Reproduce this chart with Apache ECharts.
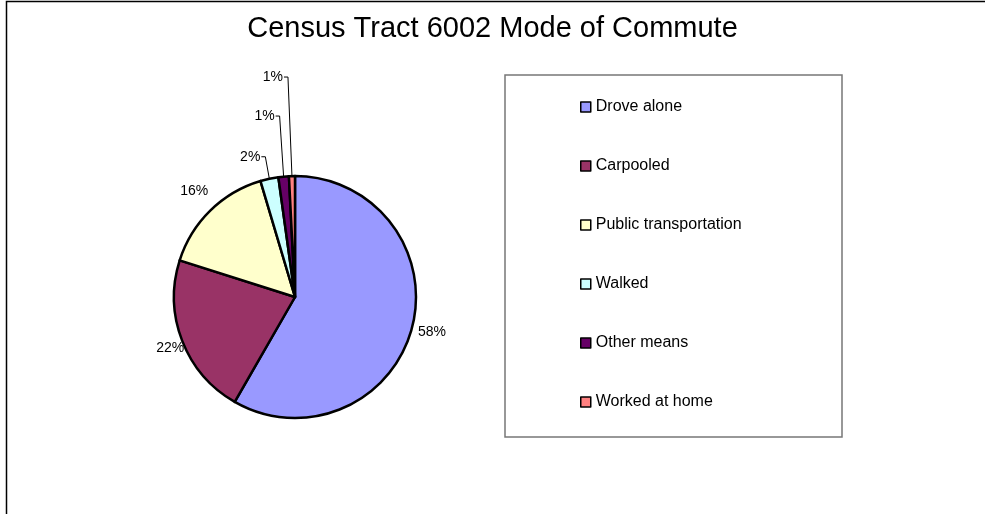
<!DOCTYPE html>
<html>
<head>
<meta charset="utf-8">
<script src="https://cdn.jsdelivr.net/npm/echarts@6/dist/echarts.min.js"></script>
<style>
  html, body { margin: 0; padding: 0; background: #fff; }
  #chart { width: 985px; height: 514px; }
</style>
</head>
<body>
<div id="chart"></div>
<script>
// commute mode shares (percent)
const modes = ["Drove alone", "Carpooled", "Public transportation", "Walked", "Other means", "Worked at home"];
const shares = [58.3, 21.6, 15.5, 2.4, 1.4, 0.8];
const colors = ["#9999ff", "#993366", "#ffffcc", "#ccffff", "#660066", "#ff8080"];

const FONT = "Liberation Sans, Arial, sans-serif";

// label offsets relative to the slice edge point (big slices only)
const bigLabelShift = [
  { dx: 6, dy: 4, align: "left" },
  { dx: 2, dy: 7, align: "right" },
  { dx: -2, dy: -19, align: "right" }
];

const pieData = modes.map((name, i) => ({
  name: name,
  value: shares[i],
  itemStyle: { color: colors[i] },
  labelLine: i < 3 ? { lineStyle: { width: 0 } } : {}
}));

const chart = echarts.init(document.getElementById("chart"));

chart.setOption({
  backgroundColor: "#fff",
  animation: false,
  title: {
    text: "Census Tract 6002 Mode of Commute",
    left: "center",
    top: 9,
    textStyle: { fontFamily: FONT, fontSize: 29, fontWeight: "normal", color: "#000" }
  },
  graphic: [
    {
      type: "rect",
      shape: { x: 6.5, y: 1.5, width: 1000, height: 600 },
      style: { fill: null, stroke: "#000", lineWidth: 1.5 },
      silent: true
    },
    {
      type: "rect",
      shape: { x: 505, y: 75, width: 337, height: 362 },
      style: { fill: "#fff", stroke: "#777", lineWidth: 1.5 },
      silent: true,
      z: -1
    }
  ],
  legend: {
    orient: "vertical",
    left: 575,
    top: 93,
    itemWidth: 10,
    itemHeight: 10,
    itemGap: 41,
    itemTextGap: 9,
    icon: "rect",
    itemStyle: { borderColor: "#000", borderWidth: 1.5 },
    textStyle: { fontFamily: FONT, fontSize: 16, color: "#000", lineHeight: 18 },
    data: modes
  },
  series: [
    {
      type: "pie",
      center: [295, 297],
      radius: 121,
      startAngle: 90,
      clockwise: true,
      avoidLabelOverlap: false,
      itemStyle: { borderColor: "#000", borderWidth: 2.5 },
      emphasis: { disabled: true },
      label: {
        show: true,
        position: "outside",
        fontFamily: FONT,
        fontSize: 14,
        color: "#000",
        formatter: p => Math.round(p.percent) + "%"
      },
      labelLine: {
        show: true,
        length: 2,
        length2: 0,
        smooth: false,
        lineStyle: { color: "#000", width: 1 }
      },
      labelLayout: function (params) {
        const i = params.dataIndex;
        const pts = params.labelLinePoints;
        if (!pts) return {};
        const p = pts[0];
        if (i < 3) {
          const s = bigLabelShift[i];
          return { x: p[0] + s.dx, y: p[1] + s.dy, align: s.align, verticalAlign: "middle" };
        }
        // small slices: stacked labels above the pie with an elbow leader
        const k = i - 3;
        const y = p[1] - 22 - k * 38.5;
        const xr = p[0] - 9;
        return {
          x: xr,
          y: y,
          align: "right",
          verticalAlign: "middle",
          labelLinePoints: [[xr + 1, y], [xr + 5, y], [p[0], p[1]]]
        };
      },
      data: pieData
    }
  ]
});
</script>
</body>
</html>
